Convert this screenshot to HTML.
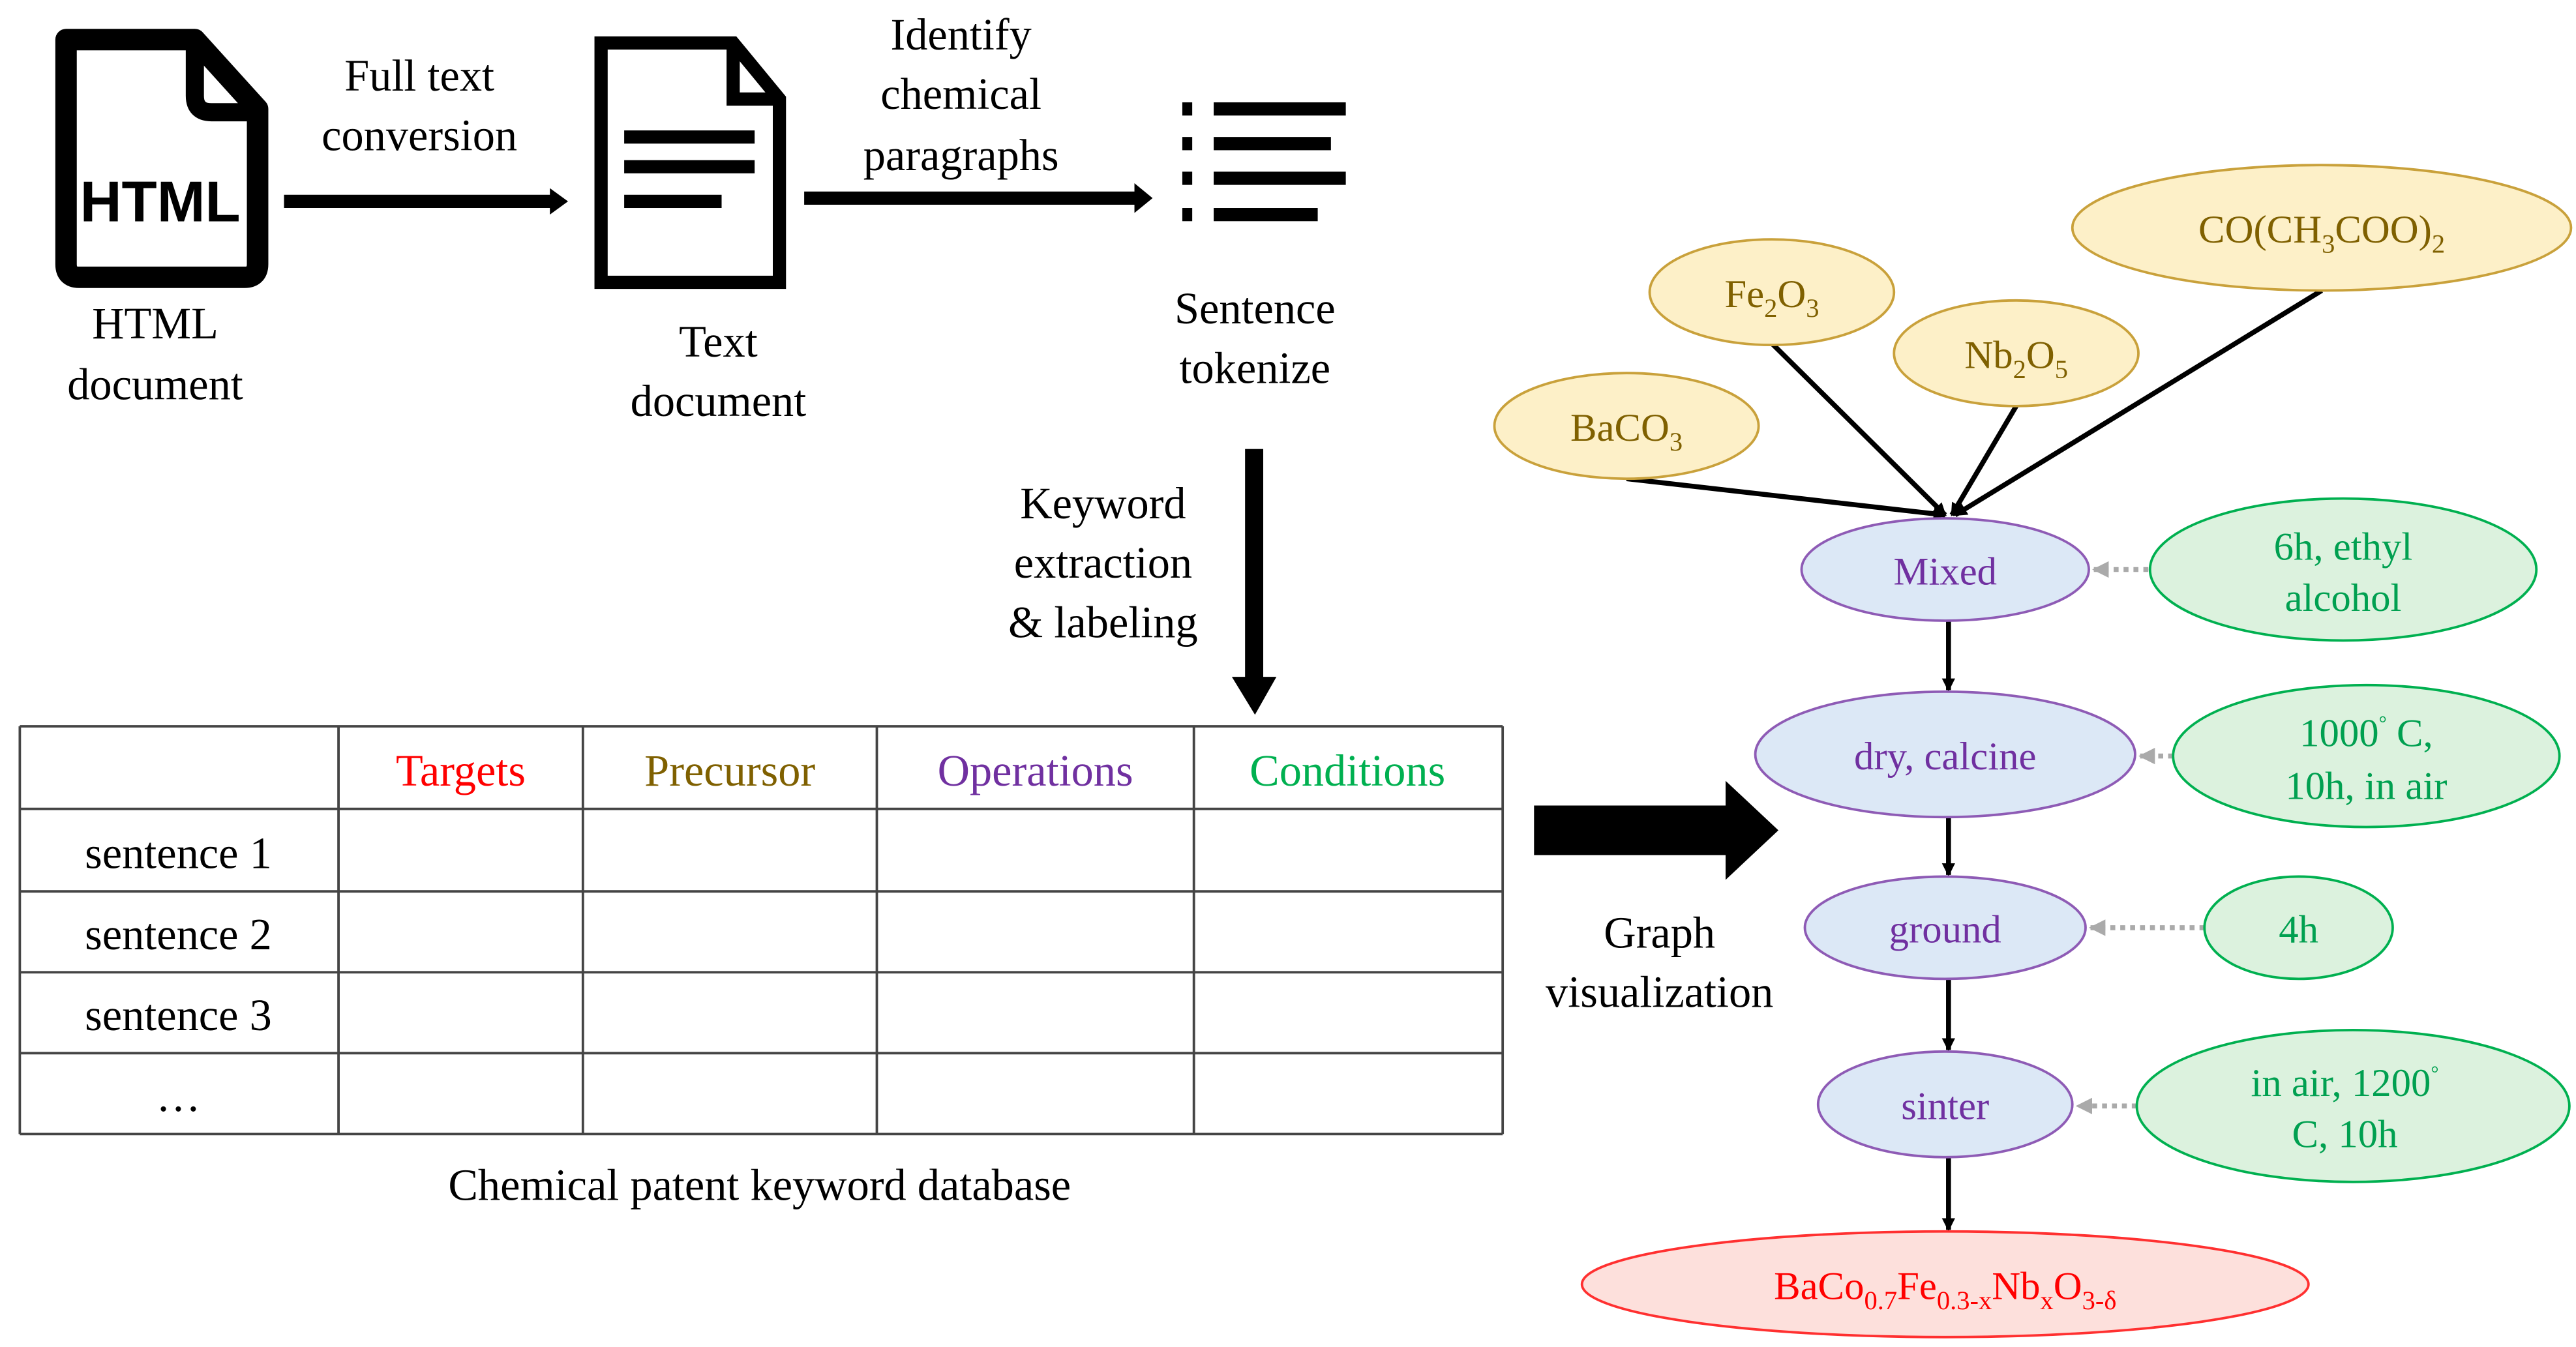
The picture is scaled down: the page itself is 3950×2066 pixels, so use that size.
<!DOCTYPE html>
<html><head><meta charset="utf-8"><style>html,body{margin:0;padding:0;background:#fff}svg{display:block}</style></head><body>
<svg width="3950" height="2066" viewBox="0 0 1560 816" preserveAspectRatio="none" xmlns="http://www.w3.org/2000/svg" font-family="Liberation Serif, serif">
<defs>
<marker id="ah" markerWidth="8" markerHeight="8" refX="7" refY="4" orient="auto" markerUnits="userSpaceOnUse"><path d="M0,0 L8,4 L0,8 z" fill="#000"/></marker>
<marker id="ab" markerWidth="14" markerHeight="14" refX="10" refY="7" orient="auto" markerUnits="userSpaceOnUse"><path d="M0,0 L12,7 L0,14 z" fill="#000"/></marker>
<marker id="ag" markerWidth="10" markerHeight="10" refX="9" refY="5" orient="auto" markerUnits="userSpaceOnUse"><path d="M0,0 L10,5 L0,10 z" fill="#aaa"/></marker>
</defs>
<!-- HTML icon -->
<path d="M40,24 H118 L156,66 V160 Q156,168 148,168 H48 Q40,168 40,160 Z" fill="none" stroke="#000" stroke-width="13" stroke-linejoin="round"/>
<path d="M118,22 V58 Q118,68 128,68 H158" fill="none" stroke="#000" stroke-width="11"/>
<text x="97" y="134" font-family="Liberation Sans, sans-serif" font-weight="bold" font-size="35" text-anchor="middle">HTML</text>
<!-- arrow1 -->
<line x1="172" y1="122" x2="336" y2="122" stroke="#000" stroke-width="8"/><path d="M333,114 L344,122 L333,130 z"/>
<!-- text doc -->
<path d="M364,26 H444 L472,60 V171 H364 Z" fill="none" stroke="#000" stroke-width="8"/>
<path d="M444,26 V60 H472" fill="none" stroke="#000" stroke-width="8"/>
<rect x="378" y="79" width="79" height="8"/><rect x="378" y="97" width="79" height="8"/><rect x="378" y="118" width="59" height="8"/>
<!-- arrow2 -->
<line x1="487" y1="120" x2="690" y2="120" stroke="#000" stroke-width="8"/><path d="M687,111 L698,120 L687,129 z"/>
<!-- list icon -->
<g fill="#000"><rect x="716" y="62" width="6" height="8"/><rect x="735" y="62" width="80" height="8"/>
<rect x="716" y="83" width="6" height="8"/><rect x="735" y="83" width="71" height="8"/>
<rect x="716" y="104" width="6" height="8"/><rect x="735" y="104" width="80" height="8"/>
<rect x="716" y="126" width="6" height="8"/><rect x="735" y="126" width="63" height="8"/></g>
<g font-size="27" text-anchor="middle" fill="#000">
<text x="254" y="55">Full text</text><text x="254" y="91">conversion</text>
<text x="94" y="205">HTML</text><text x="94" y="242">document</text>
<text x="435" y="216">Text</text><text x="435" y="252">document</text>
<text x="582" y="30">Identify</text><text x="582" y="66">chemical</text><text x="582" y="103">paragraphs</text>
<text x="760" y="196">Sentence</text><text x="760" y="232">tokenize</text>
<text x="668" y="314">Keyword</text><text x="668" y="350">extraction</text><text x="668" y="386">&amp; labeling</text>
<text x="460" y="727">Chemical patent keyword database</text>
<text x="1005" y="574">Graph</text><text x="1005" y="610">visualization</text>
</g>
<!-- down arrow -->
<rect x="754" y="272" width="11" height="140"/><path d="M746,410 L773,410 L760,433 z"/>
<!-- table -->
<g stroke="#444" stroke-width="1.5" fill="none">
<line x1="12" y1="440" x2="910" y2="440"/><line x1="12" y1="490" x2="910" y2="490"/><line x1="12" y1="540" x2="910" y2="540"/><line x1="12" y1="589" x2="910" y2="589"/><line x1="12" y1="638" x2="910" y2="638"/><line x1="12" y1="687" x2="910" y2="687"/>
<line x1="12" y1="440" x2="12" y2="687"/><line x1="205" y1="440" x2="205" y2="687"/><line x1="353" y1="440" x2="353" y2="687"/><line x1="531" y1="440" x2="531" y2="687"/><line x1="723" y1="440" x2="723" y2="687"/><line x1="910" y1="440" x2="910" y2="687"/>
</g>
<g font-size="27" text-anchor="middle">
<text x="279" y="476" fill="#ff0000">Targets</text>
<text x="442" y="476" fill="#7f6000">Precursor</text>
<text x="627" y="476" fill="#7030a0">Operations</text>
<text x="816" y="476" fill="#00b050">Conditions</text>
<text x="108" y="526">sentence 1</text><text x="108" y="575">sentence 2</text><text x="108" y="624">sentence 3</text><text x="108" y="673">…</text>
</g>
<!-- big arrow -->
<path d="M929,488 H1045 V473 L1077,503 L1045,533 V518 H929 Z"/>
<!-- graph edges -->
<g stroke="#000" stroke-width="3" marker-end="url(#ah)">
<line x1="985" y1="290" x2="1178" y2="312"/>
<line x1="1073" y1="208" x2="1178" y2="312"/>
<line x1="1221" y1="246" x2="1182" y2="312"/>
<line x1="1406" y1="176" x2="1184" y2="312"/>
<line x1="1180" y1="376" x2="1180" y2="418"/>
<line x1="1180" y1="495" x2="1180" y2="530"/>
<line x1="1180" y1="593" x2="1180" y2="636"/>
<line x1="1180" y1="701" x2="1180" y2="745"/>
</g>
<g stroke="#aaa" stroke-width="3" stroke-dasharray="3,3" marker-end="url(#ag)">
<line x1="1301" y1="345" x2="1268" y2="345"/>
<line x1="1316" y1="458" x2="1296" y2="458"/>
<line x1="1335" y1="562" x2="1266" y2="562"/>
<line x1="1294" y1="670" x2="1258" y2="670"/>
</g>
<!-- precursors -->
<g fill="#fdf0c8" stroke="#c9a13b" stroke-width="1.5">
<ellipse cx="1406" cy="138" rx="151" ry="38"/>
<ellipse cx="1073" cy="177" rx="74" ry="32"/>
<ellipse cx="1221" cy="214" rx="74" ry="32"/>
<ellipse cx="985" cy="258" rx="80" ry="32"/>
</g>
<g font-size="24" text-anchor="middle" fill="#7f6000">
<text x="1406" y="147">CO(CH<tspan font-size="16" dy="6">3</tspan><tspan dy="-6">COO)</tspan><tspan font-size="16" dy="6">2</tspan></text>
<text x="1073" y="186">Fe<tspan font-size="16" dy="6">2</tspan><tspan dy="-6">O</tspan><tspan font-size="16" dy="6">3</tspan></text>
<text x="1221" y="223">Nb<tspan font-size="16" dy="6">2</tspan><tspan dy="-6">O</tspan><tspan font-size="16" dy="6">5</tspan></text>
<text x="985" y="267">BaCO<tspan font-size="16" dy="6">3</tspan></text>
</g>
<!-- operations -->
<g fill="#dce8f6" stroke="#8e5bb5" stroke-width="1.5">
<ellipse cx="1178" cy="345" rx="87" ry="31"/>
<ellipse cx="1178" cy="457" rx="115" ry="38"/>
<ellipse cx="1178" cy="562" rx="85" ry="31"/>
<ellipse cx="1178" cy="669" rx="77" ry="32"/>
</g>
<g font-size="24" text-anchor="middle" fill="#7030a0">
<text x="1178" y="354">Mixed</text><text x="1178" y="466">dry,  calcine</text><text x="1178" y="571">ground</text><text x="1178" y="678">sinter</text>
</g>
<ellipse cx="1178" cy="778" rx="220" ry="32" fill="#fde0dc" stroke="#ff3030" stroke-width="1.5"/>
<text x="1178" y="787" font-size="24" text-anchor="middle" fill="#ff0000">BaCo<tspan font-size="16" dy="6">0.7</tspan><tspan dy="-6">Fe</tspan><tspan font-size="16" dy="6">0.3-x</tspan><tspan dy="-6">Nb</tspan><tspan font-size="16" dy="6">x</tspan><tspan dy="-6">O</tspan><tspan font-size="16" dy="6">3-δ</tspan></text>
<!-- conditions -->
<g fill="#dcf2de" stroke="#00b050" stroke-width="1.5">
<ellipse cx="1419" cy="345" rx="117" ry="43"/>
<ellipse cx="1433" cy="458" rx="117" ry="43"/>
<ellipse cx="1392" cy="562" rx="57" ry="31"/>
<ellipse cx="1425" cy="670" rx="131" ry="46"/>
</g>
<g font-size="24" text-anchor="middle" fill="#00a050">
<text x="1419" y="339">6h, ethyl</text><text x="1419" y="370">alcohol</text>
<text x="1433" y="452">1000<tspan font-size="12" dy="-10">°</tspan><tspan dy="10"> C,</tspan></text><text x="1433" y="484">10h, in air</text>
<text x="1392" y="571">4h</text>
<text x="1420" y="664">in air, 1200<tspan font-size="12" dy="-10">°</tspan></text><text x="1420" y="695">C, 10h</text>
</g>
</svg>
</body></html>
